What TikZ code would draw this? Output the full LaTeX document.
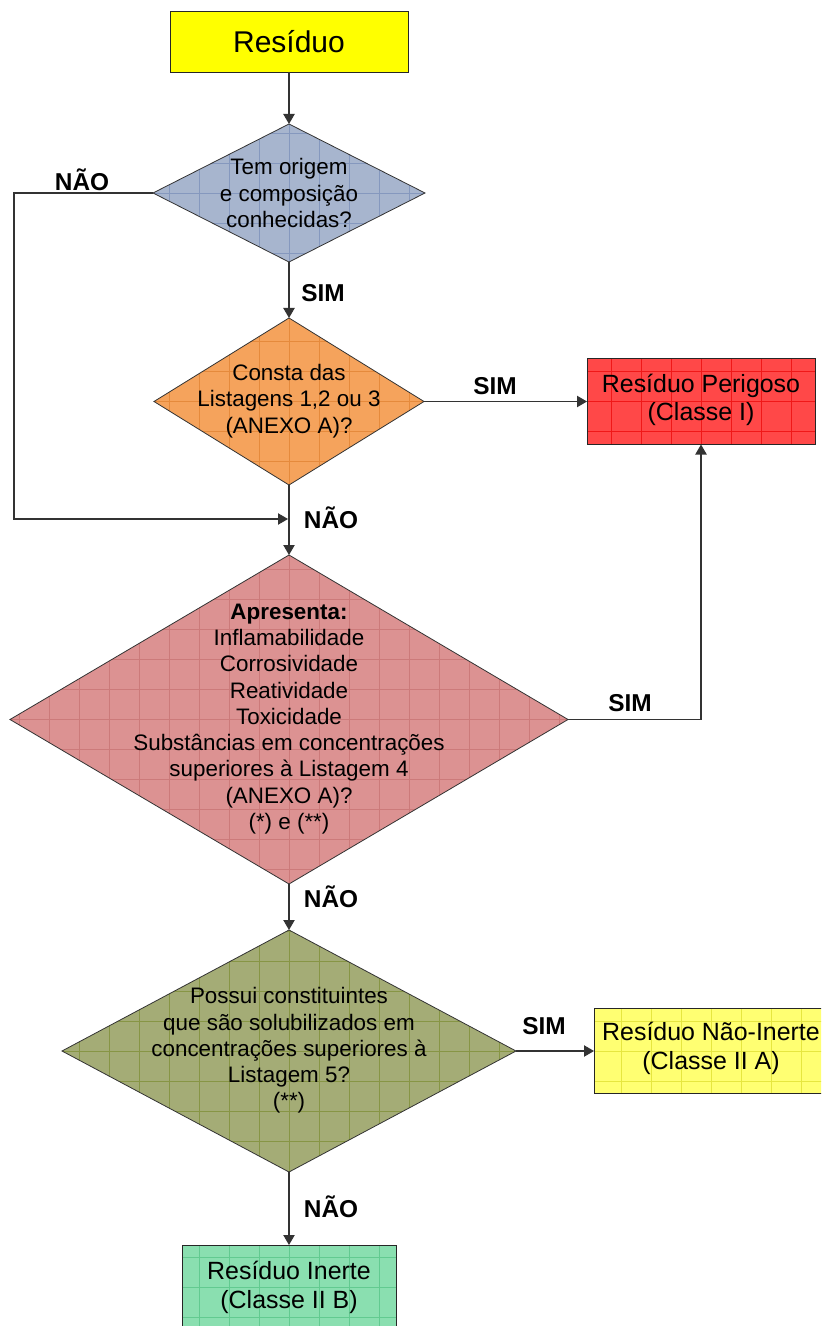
\documentclass[tikz,border=0pt]{standalone}
\usepackage{fontspec}
\setmainfont{Liberation Sans}
\usetikzlibrary{shapes.geometric,arrows.meta}
\definecolor{cYel}{HTML}{FFFF00}
\definecolor{cBlue}{HTML}{A7B5CE}
\definecolor{cBlueG}{HTML}{8598BE}
\definecolor{cOra}{HTML}{F5A35C}
\definecolor{cOraG}{HTML}{E58A3C}
\definecolor{cRed}{HTML}{FF4848}
\definecolor{cRedG}{HTML}{F01818}
\definecolor{cPink}{HTML}{DC9292}
\definecolor{cPinkG}{HTML}{CC7A7A}
\definecolor{cOli}{HTML}{A4AC76}
\definecolor{cOliG}{HTML}{879545}
\definecolor{cLYel}{HTML}{FFFF72}
\definecolor{cLYelG}{HTML}{E6E640}
\definecolor{cGrn}{HTML}{8ADFB0}
\definecolor{cGrnG}{HTML}{62CA90}
\tikzset{
  conn/.style={draw=black!80, line width=0.8pt},
  arr/.style={conn, -{Triangle[length=7.5pt,width=8.5pt]}},
  tex/.style={path picture={\draw[#1, line width=0.3pt, step=22.5pt] (path picture bounding box.south west) grid (path picture bounding box.north east);}},
  dia/.style={diamond, draw=black!80, line width=0.6pt, inner sep=0pt, outer sep=0pt},
  boxs/.style={rectangle, draw=black!85, line width=0.6pt, inner sep=0pt, outer sep=0pt},
  body/.style={align=center, font=\fontsize{16.8}{19.7}\selectfont},
  boxt/.style={align=center, font=\fontsize{18.7}{21.5}\selectfont},
  lab/.style={font=\bfseries\fontsize{18.3}{20}\selectfont},
}
\begin{document}
\begin{tikzpicture}[x=0.75pt,y=-0.75pt]
\useasboundingbox (0,0) rectangle (821,1326);
\clip (0,0) rectangle (821,1326);
\fill[white] (0,0) rectangle (821,1326);

% nodes
\node[boxs, fill=cYel, minimum width=178.5pt, minimum height=45.75pt, font=\fontsize{22.5}{26}\selectfont] (r0) at (289,41.5) {Resíduo};

\node[dia, fill=cBlue, tex=cBlueG, minimum width=204pt, minimum height=103.5pt] (d1) at (289,193) {};
\node[body] (d1t) at (289,193) {Tem origem\\e composição\\conhecidas?};

\node[dia, fill=cOra, tex=cOraG, minimum width=202.5pt, minimum height=125.25pt] (d2) at (289,401.5) {};
\node[body] (d2t) at (289,401) {Consta das\\Listagens 1,2 ou 3\\(ANEXO A)?};

\node[boxs, fill=cRed, tex=cRedG, minimum width=171pt, minimum height=64.5pt] (rp) at (701,401.5) {};
\node[boxt] (rpt) at (701,400) {Resíduo Perigoso\\(Classe I)};

\node[dia, fill=cPink, tex=cPinkG, minimum width=418.5pt, minimum height=246.75pt] (d3) at (289,719.5) {};
\node[body] (d3t) at (289,719) {\textbf{Apresenta:}\\Inflamabilidade\\Corrosividade\\Reatividade\\Toxicidade\\Substâncias em concentrações\\superiores à Listagem 4\\(ANEXO A)?\\(*) e (**)};

\node[dia, fill=cOli, tex=cOliG, minimum width=340.5pt, minimum height=181.5pt] (d4) at (289,1051) {};
\node[body] (d4t) at (289,1050.5) {Possui constituintes\\que são solubilizados em\\concentrações superiores à\\Listagem 5?\\(**)};

\node[boxs, fill=cLYel, tex=cLYelG, minimum width=175.5pt, minimum height=63.75pt] (rn) at (711,1051) {};
\node[boxt] (rnt) at (711,1048.5) {Resíduo Não-Inerte\\(Classe II A)};

\node[boxs, fill=cGrn, tex=cGrnG, minimum width=160.5pt, minimum height=63.75pt] (ri) at (289,1287.5) {};
\node[boxt] (rit) at (289,1287.5) {Resíduo Inerte\\(Classe II B)};

% coordinates
\coordinate (c1) at (14,193);
\coordinate (m1) at (288,519);

% connectors
\draw[arr] (r0.south) -- (d1.north);
\draw[arr] (d1.south) -- (d2.north);
\draw[arr] (d1.west) -- (c1) |- (m1);
\draw[arr] (d2.east) -- (rp.west);
\draw[arr] (d2.south) -- (d3.north);
\draw[arr] (d3.east) -| (rp.south);
\draw[arr] (d3.south) -- (d4.north);
\draw[arr] (d4.east) -- (rn.west);
\draw[arr] (d4.south) -- (ri.north);

% labels
\node[lab] (l1) at (82,180) {NÃO};
\node[lab] (l2) at (323,293) {SIM};
\node[lab] (l3) at (495,386) {SIM};
\node[lab] (l4) at (331,518) {NÃO};
\node[lab] (l5) at (630,703) {SIM};
\node[lab] (l6) at (331,897) {NÃO};
\node[lab] (l7) at (544,1026) {SIM};
\node[lab] (l8) at (331,1207) {NÃO};
\end{tikzpicture}
\end{document}
